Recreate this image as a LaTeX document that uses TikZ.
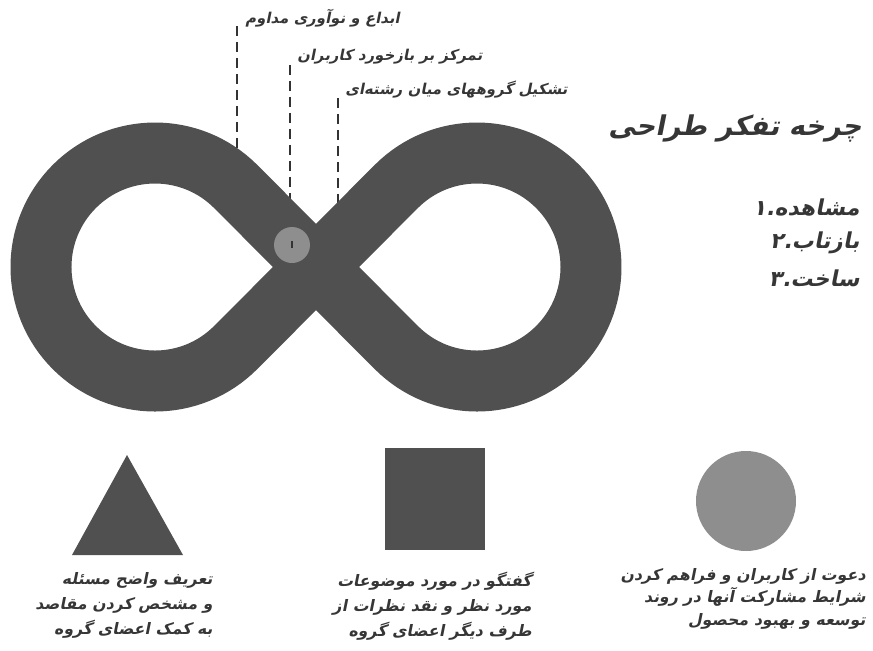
\documentclass[tikz,border=0pt]{standalone}
\usepackage{fontspec}
\newfontfamily\fafont[Script=Arabic, FakeSlant=0.2]{DejaVu Sans}
\TeXXeTstate=1
\usepackage{xcolor}
\usepackage{tikz}
\usetikzlibrary{calc, positioning}

\definecolor{darkfill}{HTML}{505050}
\definecolor{lightfill}{HTML}{8E8E8E}
\definecolor{textgray}{HTML}{363636}

\tikzset{
    fatext/.style={font=\fafont\bfseries, text=textgray, inner sep=0pt},
    toplabel/.style={fatext, anchor=west, font=\fafont\bfseries\fontsize{8.5}{10}\selectfont},
    steplabel/.style={fatext, anchor=east, font=\fafont\bfseries\fontsize{12.5}{15}\selectfont},
    notetext/.style={fatext, align=right, anchor=north east, font=\fafont\bfseries\fontsize{9}{14.2}\selectfont},
    guide/.style={dash pattern=on 5.7pt off 3.4pt, line width=1.2pt, black!80}
}

\begin{document}
\begin{tikzpicture}[x=0.02cm, y=-0.02cm]
    \useasboundingbox (0,0) rectangle (873,650);

    % Các nhãn phía trên
    \node[toplabel] (lab1) at (245,18) {\beginR ابداع و نوآوری مداوم\endR};
    \node[toplabel] (lab2) at (297,57) {\beginR تمرکز بر بازخورد کاربران\endR};
    \node[toplabel] (lab3) at (345,90) {\beginR تشکیل گروههای میان رشته‌ای\endR};

    % Đường nét đứt
    \coordinate (end1) at (237,170);
    \coordinate (end3) at (338,220);
    \draw[guide] ($(lab1.west)+(-8,8)$) -- (end1);
    \draw[guide] ($(lab2.west)+(-7,8)$) -- (290,244);
    \draw[guide] ($(lab3.west)+(-7,8)$) -- (end3);

    % Vòng vô cực
    \draw[darkfill, line width=1.22cm, line join=round]
        (316,267) -- (235.6,186.4) arc[start angle=-45, end angle=-315, radius=114]
        -- (316,267) -- (396.4,186.4) arc[start angle=-135, end angle=135, radius=114]
        -- cycle;

    % Điểm giao
    \node[circle, fill=lightfill, inner sep=0pt, minimum size=0.72cm] (hub) at (292,245) {};
    \draw[line width=1.2pt, black!80] ($(hub.center)+(0,-4)$) -- ($(hub.center)+(0,3)$);

    % Tiêu đề bên phải
    \node[steplabel, font=\fafont\bfseries\fontsize{15.5}{18}\selectfont] (title) at (862,128) {\beginR چرخه تفکر طراحی\endR};
    \node[steplabel] (step1) at (860,208) {\beginR مشاهده.۱\endR};
    \node[steplabel] (step2) at (860,243) {\beginR بازتاب.۲\endR};
    \node[steplabel] (step3) at (860,278) {\beginR ساخت.۳\endR};

    % Các hình phía dưới
    \fill[darkfill] (127,455) -- (183,555) -- (72,555) -- cycle;
    \fill[darkfill] (385,448) rectangle (485,550);
    \fill[lightfill] (746,501) circle (50);

    % Chú thích
    \node[notetext] (noteA) at (213,572) {\beginR تعریف واضح مسئله\endR\\
        \beginR و مشخص کردن مقاصد\endR\\ \beginR به کمک اعضای گروه\endR};
    \node[notetext] (noteB) at (532,572) {\beginR گفتگو در مورد موضوعات\endR\\
        \beginR مورد نظر و نقد نظرات از\endR\\ \beginR طرف دیگر اعضای گروه\endR};
    \node[notetext, font=\fafont\bfseries\fontsize{9}{12.8}\selectfont] (noteC) at (866,568) {\beginR دعوت از کاربران و فراهم کردن\endR\\
        \beginR شرایط مشارکت آنها در روند\endR\\ \beginR توسعه و بهبود محصول\endR};
\end{tikzpicture}
\end{document}
